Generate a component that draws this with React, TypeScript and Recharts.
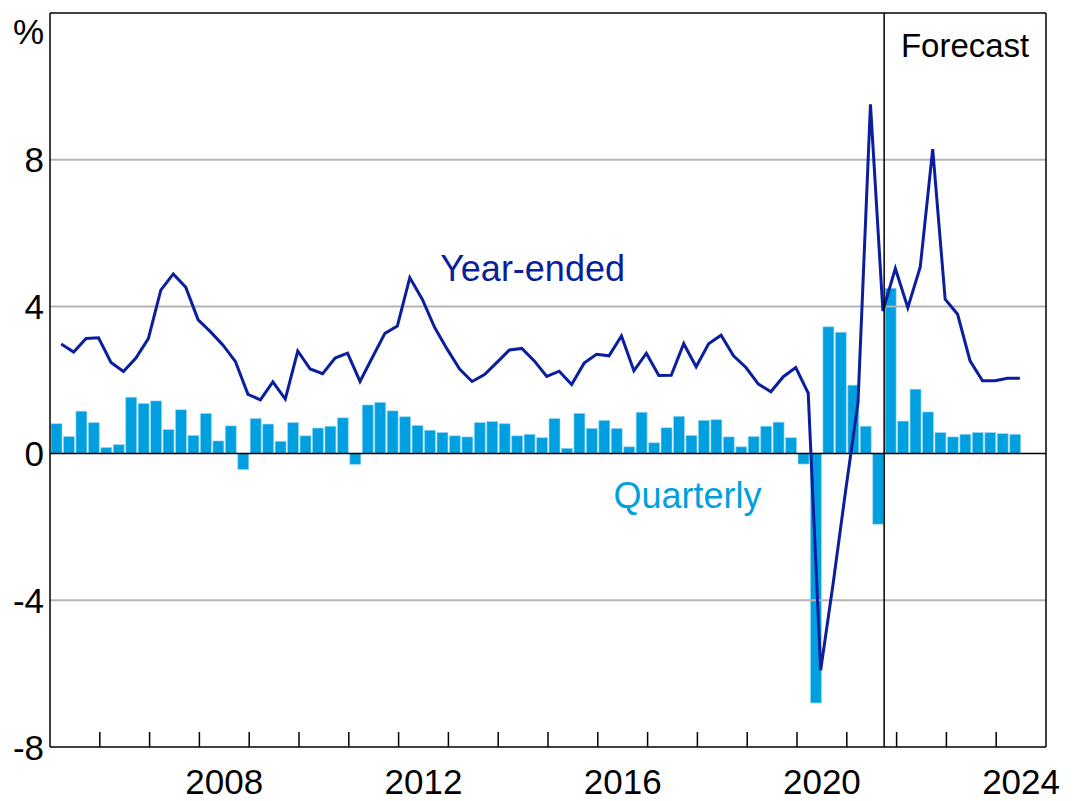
import React from 'react';
import {
  ComposedChart,
  Bar,
  Line,
  XAxis,
  YAxis,
  ReferenceLine,
  ReferenceDot,
} from 'recharts';

const FONT = '"Liberation Sans", Arial, Helvetica, sans-serif';

// Quarterly data starting 2005 Q1
const START_YEAR = 2005;
const TOTAL_QUARTERS = 80; // axis spans 2005 to end of 2024
const FORECAST_START = 67; // 2021 Q4 onwards is forecast

// Quarterly growth, %
const quarterly = [
  0.81, 0.46, 1.15, 0.84, 0.16, 0.24, 1.53, 1.36, 1.43, 0.65,
  1.19, 0.49, 1.09, 0.34, 0.75, -0.44, 0.95, 0.8, 0.33, 0.84,
  0.48, 0.69, 0.74, 0.97, -0.3, 1.32, 1.39, 1.16, 1.0, 0.76,
  0.63, 0.57, 0.48, 0.45, 0.84, 0.87, 0.81, 0.48, 0.52, 0.43,
  0.95, 0.14, 1.09, 0.68, 0.9, 0.68, 0.18, 1.12, 0.29, 0.7,
  1.01, 0.49, 0.9, 0.92, 0.45, 0.18, 0.46, 0.74, 0.85, 0.43,
  -0.29, -6.8, 3.45, 3.3, 1.86, 0.74, -1.93, 4.5, 0.88, 1.75,
  1.13, 0.57, 0.45, 0.52, 0.57, 0.57, 0.54, 0.52,
];

// Year-ended growth, %
const yearEnded = [
  2.98, 2.76, 3.13, 3.15, 2.48, 2.23, 2.6, 3.13, 4.45, 4.89,
  4.53, 3.64, 3.31, 2.95, 2.5, 1.61, 1.46, 1.95, 1.48, 2.79,
  2.3, 2.17, 2.6, 2.73, 1.96, 2.62, 3.27, 3.47, 4.79, 4.2,
  3.43, 2.84, 2.3, 1.96, 2.15, 2.48, 2.82, 2.86, 2.52, 2.1,
  2.24, 1.88, 2.46, 2.7, 2.66, 3.2, 2.25, 2.73, 2.12, 2.13,
  2.99, 2.36, 2.99, 3.22, 2.66, 2.34, 1.89, 1.68, 2.09, 2.34,
  1.64, -5.91, -3.55, -1.03, 1.39, 9.51, 3.88, 5.04, 3.97, 5.08,
  8.29, 4.2, 3.79, 2.52, 1.98, 1.98, 2.05, 2.05,
];

const yTicks = [-8, -4, 0, 4, 8, 12];
const gridValues = [-4, 4, 8];
const yearLabels = [2008, 2012, 2016, 2020, 2024];

const quarterNames = quarterly.map(
  (_, i) => `${START_YEAR + Math.floor(i / 4)} Q${(i % 4) + 1}`
);

const barData = quarterly.map((q, i) => ({ x: i + 0.5, q, name: quarterNames[i] }));
const lineData = yearEnded.map((y, i) => ({ x: i + 0.9, y, name: quarterNames[i] }));

const yearBoundaryTicks = Array.from({ length: TOTAL_QUARTERS / 4 - 1 }, (_, k) => (k + 1) * 4);
const labelTicks = yearLabels.map((yr) => (yr - START_YEAR) * 4 + 2);
const xTicks = [...yearBoundaryTicks, ...labelTicks].sort((a, b) => a - b);

const BAR_COLOR = '#00a0e0';
const LINE_COLOR = '#0a1e9e';

const XTick = (props: any) => {
  const { x, y, payload } = props;
  const v = payload.value;
  if (v % 4 === 0) {
    return <line x1={x} x2={x} y1={y} y2={y - 15} stroke="#000" strokeWidth={1.5} />;
  }
  const year = START_YEAR + Math.floor(v / 4);
  return (
    <text x={x} y={y + 47} textAnchor="middle" fontSize={35} fill="#000" fontFamily={FONT}>
      {year}
    </text>
  );
};

const LeftTick = (props: any) => {
  const { x, y, payload } = props;
  const isTop = payload.value === 12;
  return (
    <text
      x={x}
      y={isTop ? y + 18 : y}
      textAnchor="end"
      dominantBaseline="central"
      fontSize={35}
      fill="#000"
      fontFamily={FONT}
    >
      {isTop ? '%' : payload.value}
    </text>
  );
};

const RightTick = (props: any) => {
  const { x, y, payload } = props;
  const isTop = payload.value === 12;
  return (
    <text
      x={x}
      y={isTop ? y + 18 : y}
      textAnchor="start"
      dominantBaseline="central"
      fontSize={35}
      fill="#000"
      fontFamily={FONT}
    >
      {isTop ? '%' : payload.value}
    </text>
  );
};

export default function App() {
  return (
    <div style={{ position: 'absolute', left: 0, top: 0, background: '#fff' }}>
      <ComposedChart
        width={1086}
        height={801}
        data={barData}
        margin={{ top: 13, right: 0, bottom: 0, left: 0 }}
      >
        <XAxis
          xAxisId="bars"
          dataKey="x"
          type="number"
          domain={[0, TOTAL_QUARTERS]}
          allowDataOverflow
          ticks={xTicks}
          interval={0}
          tick={<XTick />}
          tickLine={false}
          tickSize={0}
          tickMargin={0}
          height={54}
          axisLine={{ stroke: '#000', strokeWidth: 1.5 }}
        />
        <XAxis
          xAxisId="line"
          dataKey="x"
          type="number"
          domain={[0, TOTAL_QUARTERS]}
          allowDataOverflow
          hide
        />
        <YAxis
          yAxisId="left"
          type="number"
          domain={[-8, 12]}
          ticks={yTicks}
          interval={0}
          width={50}
          tickLine={false}
          tickSize={0}
          tickMargin={6}
          tick={<LeftTick />}
          axisLine={{ stroke: '#000', strokeWidth: 1.5 }}
        />
        <YAxis
          yAxisId="right"
          orientation="right"
          type="number"
          domain={[-8, 12]}
          ticks={yTicks}
          interval={0}
          width={40}
          tickLine={false}
          tickSize={0}
          tickMargin={4}
          tick={<RightTick />}
          axisLine={{ stroke: '#000', strokeWidth: 1.5 }}
        />
        {gridValues.map((g) => (
          <ReferenceLine key={g} xAxisId="bars" yAxisId="left" y={g} stroke="#b4b4b4" strokeWidth={2} />
        ))}
        <ReferenceLine xAxisId="bars" yAxisId="left" y={0} stroke="#000" strokeWidth={1.5} />
        <ReferenceLine xAxisId="bars" yAxisId="left" y={12} stroke="#000" strokeWidth={1.5} />
        <Bar
          xAxisId="bars"
          yAxisId="left"
          dataKey="q"
          fill={BAR_COLOR}
          stroke="#9fd8f2"
          strokeWidth={0.6}
          barSize={11}
          isAnimationActive={false}
        />
        <Line
          xAxisId="line"
          yAxisId="left"
          data={lineData}
          dataKey="y"
          type="linear"
          stroke={LINE_COLOR}
          strokeWidth={3}
          dot={false}
          activeDot={false}
          isAnimationActive={false}
        />
        <ReferenceLine xAxisId="bars" yAxisId="left" x={FORECAST_START} stroke="#000" strokeWidth={1.5} />
        <ReferenceDot
          xAxisId="bars"
          yAxisId="left"
          x={38.76}
          y={5.05}
          r={0}
          fill="none"
          stroke="none"
          label={{ value: 'Year-ended', position: 'center', fill: LINE_COLOR, fontSize: 36, fontFamily: FONT }}
        />
        <ReferenceDot
          xAxisId="bars"
          yAxisId="left"
          x={51.2}
          y={-1.15}
          r={0}
          fill="none"
          stroke="none"
          label={{ value: 'Quarterly', position: 'center', fill: BAR_COLOR, fontSize: 36, fontFamily: FONT }}
        />
        <ReferenceDot
          xAxisId="bars"
          yAxisId="left"
          x={73.5}
          y={11.12}
          r={0}
          fill="none"
          stroke="none"
          label={{ value: 'Forecast', position: 'center', fill: '#000', fontSize: 33, fontFamily: FONT }}
        />
      </ComposedChart>
    </div>
  );
}
